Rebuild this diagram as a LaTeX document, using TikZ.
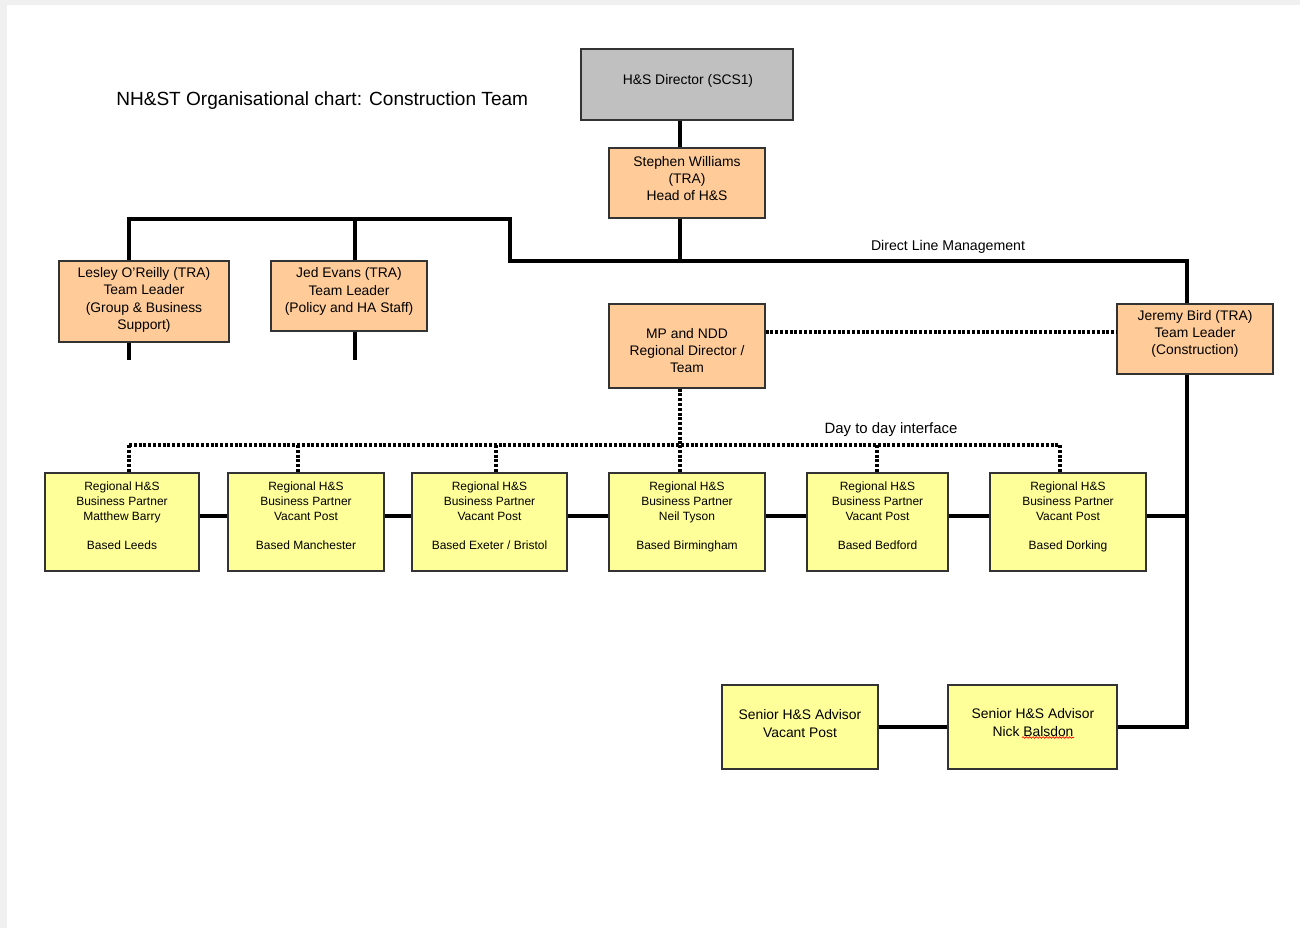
\documentclass[tikz,border=0pt]{standalone}
\usepackage{fontspec}
\setmainfont{Liberation Sans}
\usetikzlibrary{decorations.pathmorphing}
\definecolor{peach}{HTML}{FFCC99}
\definecolor{pale}{HTML}{FFFF99}
\definecolor{greybox}{HTML}{C0C0C0}
\definecolor{edge}{HTML}{333333}
\definecolor{frame}{HTML}{F0F0F0}
\begin{document}
\begin{tikzpicture}[x=0.75pt,y=-0.75pt,
 box/.style={draw=edge,line width=1pt,inner sep=0pt},
 orange/.style={box,fill=peach},
 yel/.style={box,fill=pale,minimum height=73.5pt},
 senior/.style={box,fill=pale,minimum height=63pt},
 otext/.style={inner sep=0pt,align=center,font=\fontsize{10.4}{13}\selectfont},
 ytext/.style={inner sep=0pt,align=center,anchor=north,font=\fontsize{9}{10.9}\selectfont},
 link/.style={line width=2.3pt,black},
 dots/.style={line width=2.3pt,black,dash pattern=on 2.2pt off 1.4pt},
 lbl/.style={font=\fontsize{10.6}{12}\selectfont,inner sep=0pt}]
% canvas
\fill[frame] (0,0) rectangle (1300,928);
\fill[white] (7,5) rectangle (1300,928);
\useasboundingbox (0,0) rectangle (1300,928);

% title
\node[anchor=west,inner sep=0pt,font=\fontsize{14.3}{16}\selectfont] (title) at (116,101) {NH\&ST Organisational chart: Construction Team};

% top boxes
\node[box,fill=greybox,minimum width=159pt,minimum height=53.25pt] (dir) at (687,84.5) {};
\node[orange,minimum width=117pt,minimum height=52.5pt] (stephen) at (687,183) {};
\node[orange,minimum width=127.5pt,minimum height=60.75pt] (lesley) at (144,301.5) {};
\node[orange,minimum width=117pt,minimum height=52.5pt] (jed) at (349,296) {};
\node[orange,minimum width=117pt,minimum height=63pt] (mp) at (687,346) {};
\node[orange,minimum width=117pt,minimum height=52.5pt] (jeremy) at (1195,339) {};

\node[otext] (dirT) at (688,81) {H\&S Director (SCS1)};
\node[otext] (stephenT) at (687,178.5) {Stephen Williams\\(TRA)\\Head of H\&S};
\node[otext] (lesleyT) at (144,300) {Lesley O'Reilly (TRA)\\Team Leader\\(Group \& Business\\Support)};
\node[otext] (jedT) at (349,291.5) {Jed Evans (TRA)\\Team Leader\\(Policy and HA Staff)};
\node[otext] (mpT) at (687,350.5) {MP and NDD\\Regional Director /\\Team};
\node[otext] (jeremyT) at (1195,334) {Jeremy Bird (TRA)\\Team Leader\\(Construction)};

% regional partners
\node[yel,minimum width=115.5pt] (b1) at (122,522) {};
\node[yel,minimum width=117pt] (b2) at (306,522) {};
\node[yel,minimum width=116.25pt] (b3) at (489.5,522) {};
\node[yel,minimum width=117pt] (b4) at (687,522) {};
\node[yel,minimum width=105.75pt] (b5) at (877.5,522) {};
\node[yel,minimum width=117pt] (b6) at (1068,522) {};

\node[ytext] (b1T) at (122,482) {Regional H\&S\\Business Partner\\Matthew Barry\\[10.9pt]Based Leeds};
\node[ytext] (b2T) at (306,482) {Regional H\&S\\Business Partner\\Vacant Post\\[10.9pt]Based Manchester};
\node[ytext] (b3T) at (489.5,482) {Regional H\&S\\Business Partner\\Vacant Post\\[10.9pt]Based Exeter / Bristol};
\node[ytext] (b4T) at (687,482) {Regional H\&S\\Business Partner\\Neil Tyson\\[10.9pt]Based Birmingham};
\node[ytext] (b5T) at (877.5,482) {Regional H\&S\\Business Partner\\Vacant Post\\[10.9pt]Based Bedford};
\node[ytext] (b6T) at (1068,482) {Regional H\&S\\Business Partner\\Vacant Post\\[10.9pt]Based Dorking};

% senior advisors
\node[senior,minimum width=117pt] (sa1) at (800,727) {};
\node[senior,minimum width=126.75pt] (sa2) at (1032.5,727) {};
\node[otext] (sa1T) at (800,723.5) {Senior H\&S Advisor\\Vacant Post};
\node[otext] (sa2T) at (1033,722.5) {Senior H\&S Advisor\\Nick Balsdon};
\draw[red,line width=0.5pt,decorate,decoration={snake,amplitude=0.6pt,segment length=2.5pt}] (1022,737.5) -- (1074,737.5);

% labels
\node[lbl] (dlm) at (948,246.5) {Direct Line Management};
\node[lbl,font=\fontsize{11.2}{12}\selectfont] (dtd) at (891,429.5) {Day to day interface};

% helper coordinates
\coordinate (spine) at (680,0);
\coordinate (cl) at (129,0);
\coordinate (cj) at (355,0);
\coordinate (cr) at (1187,0);
\coordinate (bendA) at (510,219);
\coordinate (bendB) at (510,261);
\coordinate (row) at (0,516);
\coordinate (hz) at (0,332);
\coordinate (lstub) at (129,360);
\coordinate (jstub) at (355,360);
\coordinate (d1) at (129,445);
\coordinate (d2) at (298,445);
\coordinate (d3) at (496,445);
\coordinate (d4) at (680,445);
\coordinate (d5) at (877,445);
\coordinate (d6) at (1060,445);

% solid management lines
\draw[link] (dir.south -| spine) -- (stephen.north -| spine);
\draw[link] (stephen.south -| spine) -- (bendB -| spine);
\draw[link] (lesley.north -| cl) -- (cl |- bendA) -- (bendA) -- (bendB) -- (bendB -| cr) -- (jeremy.north -| cr);
\draw[link] (jed.north -| cj) -- (cj |- bendA);
\draw[link] (lesley.south -| cl) -- (lstub);
\draw[link] (jed.south -| cj) -- (jstub);
\draw[link] (jeremy.south -| cr) |- (sa2.east);
\draw[link] (sa1.east) -- (sa2.west);
\draw[link] (b1.east |- row) -- (b2.west |- row);
\draw[link] (b2.east |- row) -- (b3.west |- row);
\draw[link] (b3.east |- row) -- (b4.west |- row);
\draw[link] (b4.east |- row) -- (b5.west |- row);
\draw[link] (b5.east |- row) -- (b6.west |- row);
\draw[link] (b6.east |- row) -- (cr |- row);

% dotted interface lines
\draw[dots] (mp.east |- hz) -- (jeremy.west |- hz);
\draw[dots] (mp.south -| spine) -- (d4);
\draw[dots] (d1) -- (d6);
\draw[dots] (d1) -- (b1.north -| d1);
\draw[dots] (d2) -- (b2.north -| d2);
\draw[dots] (d3) -- (b3.north -| d3);
\draw[dots] (d4) -- (b4.north -| d4);
\draw[dots] (d5) -- (b5.north -| d5);
\draw[dots] (d6) -- (b6.north -| d6);
\end{tikzpicture}
\end{document}
